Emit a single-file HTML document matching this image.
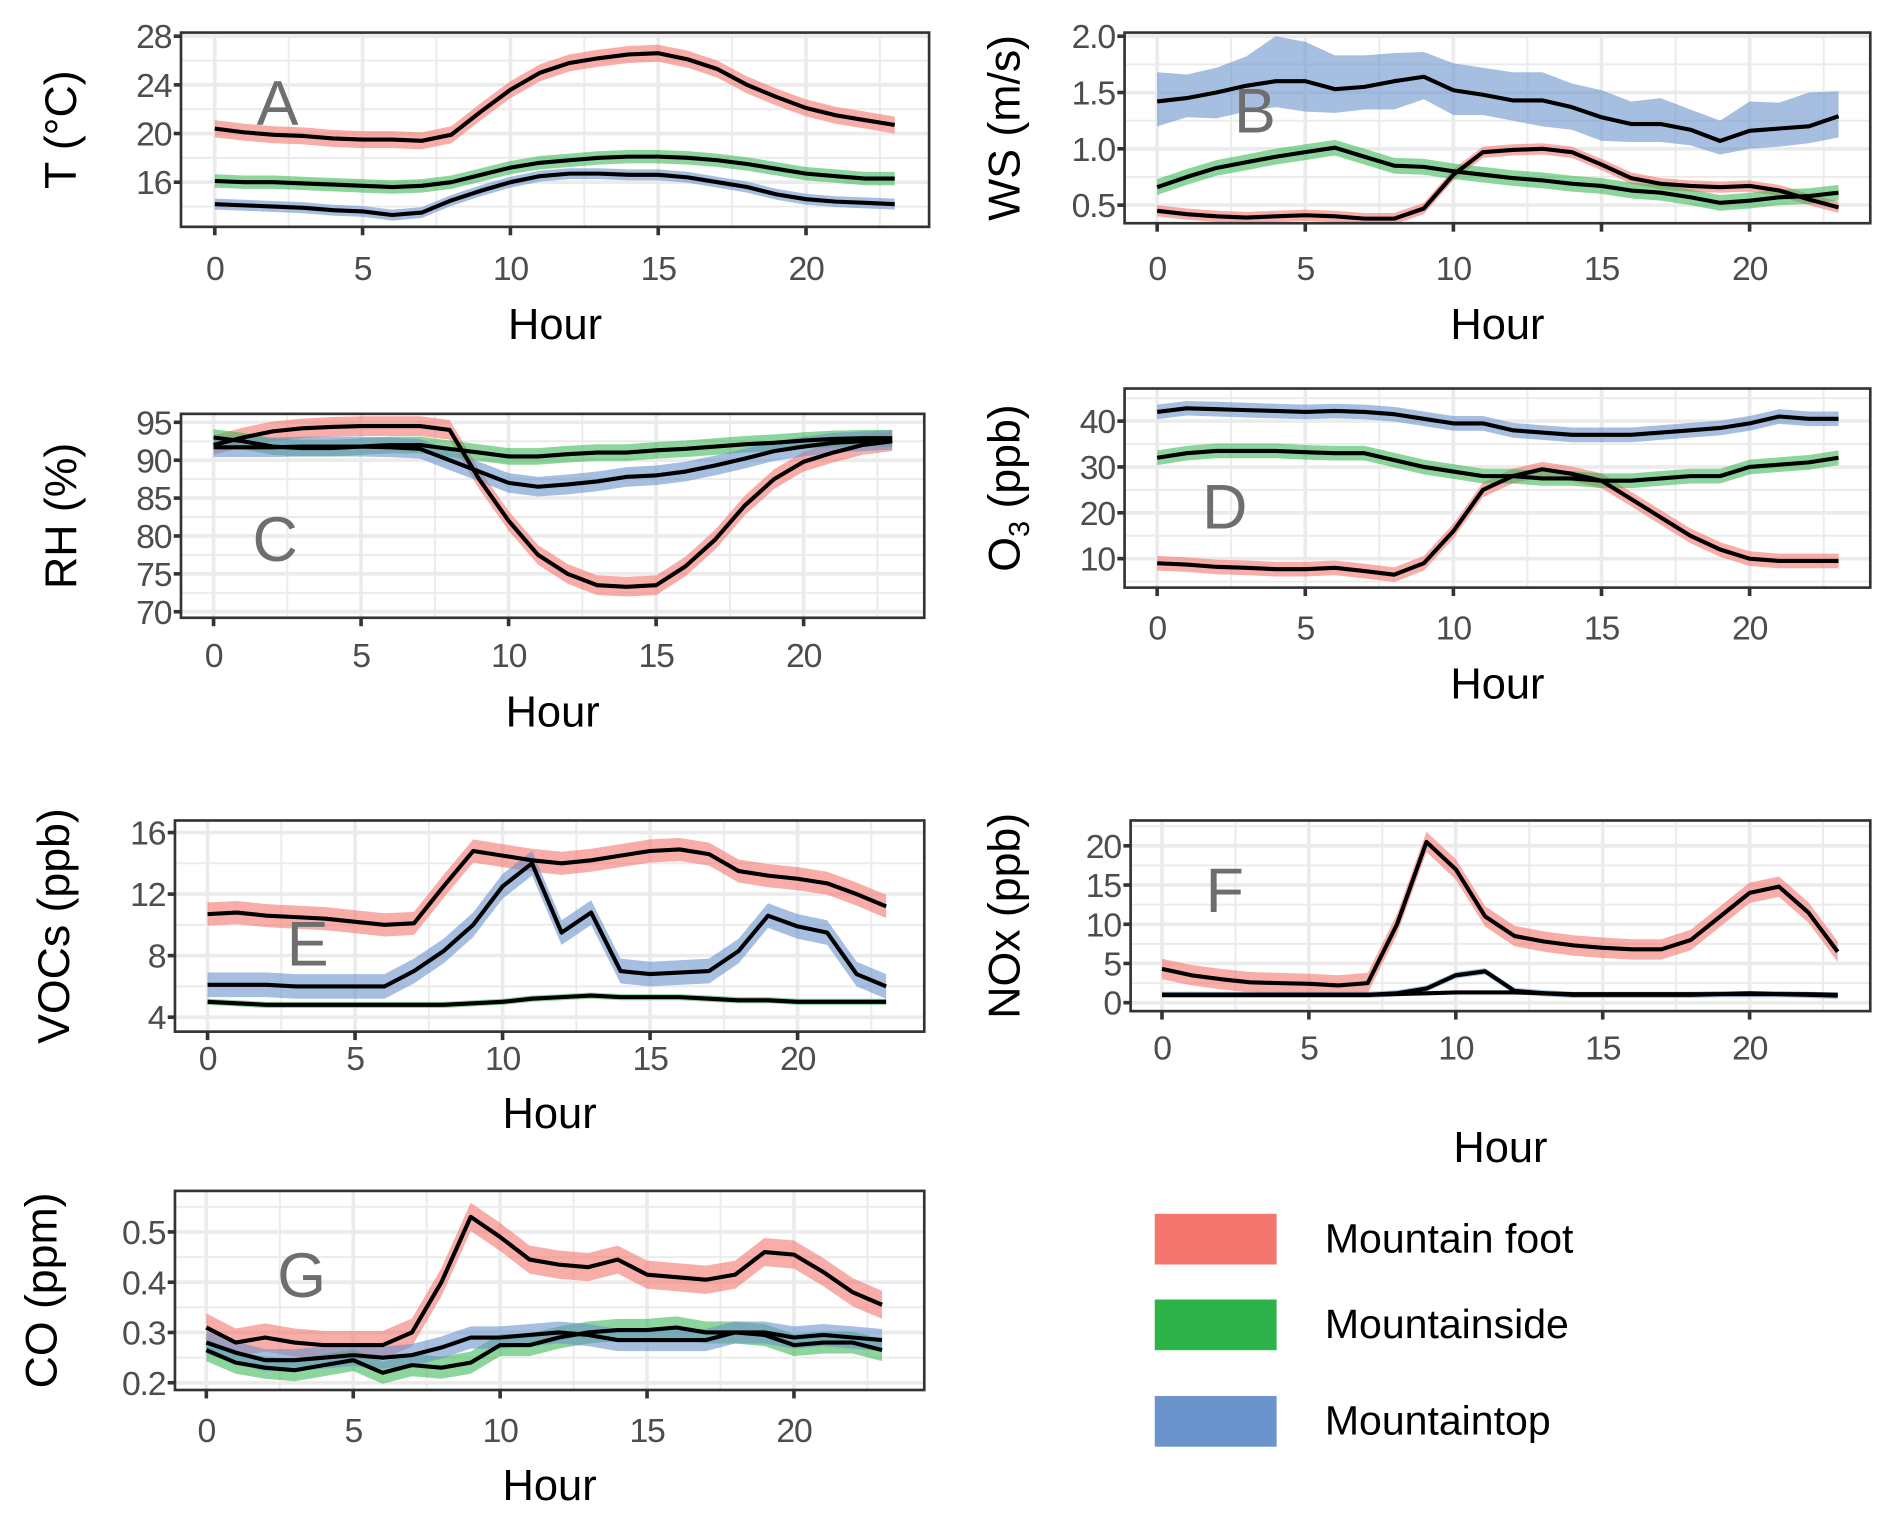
<!DOCTYPE html>
<html><head><meta charset="utf-8"><title>Diurnal profiles</title>
<style>
html,body{margin:0;padding:0;background:#fff;}
svg{display:block;font-family:"Liberation Sans",sans-serif;}
</style></head>
<body>
<svg id="chart" width="1892" height="1522" viewBox="0 0 1568 1261.4" preserveAspectRatio="none" xmlns="http://www.w3.org/2000/svg"></svg>
<script>
const hours = [0,1,2,3,4,5,6,7,8,9,10,11,12,13,14,15,16,17,18,19,20,21,22,23];
const xTicks = [0,5,10,15,20];
const seriesNames = ["Mountain foot","Mountainside","Mountaintop"];

// A: Temperature
const aFoot = [20.4,20.1,19.9,19.8,19.6,19.5,19.5,19.4,19.9,21.8,23.6,25.0,25.8,26.2,26.5,26.6,26.1,25.3,24.0,23.0,22.1,21.5,21.1,20.7];
const aSide = [16.1,16.0,16.0,15.9,15.8,15.7,15.6,15.7,16.0,16.6,17.2,17.6,17.8,18.0,18.1,18.1,18.0,17.8,17.5,17.1,16.7,16.5,16.3,16.3];
const aTop  = [14.2,14.1,14.0,13.9,13.7,13.6,13.3,13.5,14.5,15.3,16.0,16.5,16.7,16.7,16.6,16.6,16.4,16.0,15.6,15.0,14.6,14.4,14.3,14.2];
const aBand = [0.7,0.55,0.45];
const aTicks = [16,20,24,28];

// B: Wind speed
const bFoot = [0.45,0.42,0.40,0.39,0.40,0.41,0.40,0.38,0.38,0.47,0.77,0.97,0.99,1.00,0.97,0.86,0.74,0.69,0.67,0.66,0.67,0.63,0.55,0.48];
const bSide = [0.66,0.75,0.83,0.88,0.93,0.97,1.01,0.93,0.85,0.84,0.80,0.77,0.74,0.72,0.69,0.67,0.63,0.61,0.57,0.52,0.54,0.57,0.58,0.61];
const bTop  = [1.42,1.45,1.50,1.56,1.60,1.60,1.53,1.55,1.60,1.64,1.52,1.48,1.43,1.43,1.37,1.28,1.22,1.22,1.17,1.07,1.16,1.18,1.20,1.29];
const bTopHi = [1.68,1.66,1.72,1.82,2.00,1.95,1.83,1.83,1.85,1.86,1.76,1.72,1.68,1.68,1.58,1.52,1.42,1.45,1.35,1.25,1.42,1.41,1.50,1.51];
const bTopLo = [1.20,1.28,1.27,1.33,1.37,1.33,1.32,1.35,1.35,1.44,1.30,1.30,1.25,1.20,1.17,1.07,1.06,1.06,1.03,0.95,1.00,1.02,1.05,1.10];
const bBand = [0.05,0.07,0];
const bTicks = [0.5,1.0,1.5,2.0];

// C: Relative humidity
const cFoot = [92.0,93.0,93.8,94.2,94.4,94.5,94.5,94.5,94.0,87.5,82.0,77.5,75.0,73.5,73.3,73.5,76.0,79.5,84.0,87.5,89.8,91.0,92.0,92.5];
const cSide = [93.0,92.5,91.8,91.6,91.6,91.8,92.0,92.0,91.5,91.0,90.5,90.5,90.8,91.0,91.0,91.3,91.5,91.8,92.1,92.3,92.6,92.8,92.9,92.9];
const cTop  = [91.7,91.7,91.7,91.8,91.8,91.8,91.7,91.5,90.0,88.5,87.0,86.5,86.8,87.2,87.8,88.0,88.5,89.3,90.2,91.2,91.8,92.3,92.5,92.7];
const cBand = [1.3,1.1,1.3];
const cTicks = [70,75,80,85,90,95];

// D: O3
const dFoot = [9.0,8.7,8.2,8.0,7.7,7.7,8.0,7.3,6.5,9.0,16.0,25.0,28.0,29.5,28.5,27.0,23.0,19.0,15.0,12.0,10.0,9.5,9.5,9.5];
const dSide = [32.0,33.0,33.5,33.5,33.5,33.2,33.0,33.0,31.5,30.0,29.0,28.0,28.0,27.5,27.5,27.0,27.0,27.5,28.0,28.0,30.0,30.5,31.0,32.0];
const dTop  = [42.0,42.8,42.6,42.4,42.2,42.0,42.2,42.0,41.5,40.5,39.5,39.5,38.0,37.5,37.0,37.0,37.0,37.5,38.0,38.5,39.5,41.0,40.5,40.5];
const dBand = [1.6,1.6,1.6];
const dTicks = [10,20,30,40];

// E: VOCs
const eFoot = [10.7,10.8,10.6,10.5,10.4,10.2,10.0,10.1,12.5,14.8,14.5,14.2,14.0,14.2,14.5,14.8,14.9,14.6,13.5,13.2,13.0,12.7,12.0,11.2];
const eSide = [5.0,4.9,4.8,4.8,4.8,4.8,4.8,4.8,4.8,4.9,5.0,5.2,5.3,5.4,5.3,5.3,5.3,5.2,5.1,5.1,5.0,5.0,5.0,5.0];
const eTop  = [6.1,6.1,6.1,6.0,6.0,6.0,6.0,7.0,8.3,10.0,12.5,14.0,9.5,10.8,7.0,6.8,6.9,7.0,8.3,10.6,9.9,9.5,6.8,6.0];
const eBand = [0.75,0.2,0.8];
const eTicks = [4,8,12,16];

// F: NOx
const fFoot = [4.3,3.5,3.0,2.6,2.5,2.4,2.2,2.5,10.0,20.5,17.0,11.0,8.5,7.8,7.3,7.0,6.8,6.8,8.0,11.0,14.0,14.8,11.5,6.5];
const fSide = [1.0,1.0,1.0,1.0,1.0,1.0,1.0,1.0,1.1,1.2,1.3,1.3,1.3,1.2,1.1,1.1,1.1,1.1,1.1,1.1,1.2,1.1,1.1,1.0];
const fTop  = [1.0,1.0,1.0,1.0,1.0,1.0,1.0,1.0,1.2,1.8,3.5,4.0,1.5,1.2,1.0,1.0,1.0,1.0,1.0,1.1,1.1,1.1,1.0,0.9];
const fBand = [1.3,0.2,0.4];
const fTicks = [0,5,10,15,20];

// G: CO
const gFoot = [0.31,0.28,0.29,0.28,0.275,0.275,0.275,0.30,0.40,0.53,0.49,0.445,0.435,0.43,0.445,0.415,0.41,0.405,0.415,0.46,0.455,0.42,0.38,0.355];
const gSide = [0.265,0.24,0.23,0.225,0.235,0.245,0.22,0.235,0.23,0.24,0.275,0.275,0.29,0.30,0.305,0.305,0.31,0.30,0.30,0.295,0.275,0.28,0.28,0.265];
const gTop  = [0.28,0.26,0.245,0.245,0.25,0.255,0.25,0.255,0.27,0.29,0.29,0.295,0.30,0.295,0.285,0.285,0.285,0.285,0.30,0.30,0.29,0.295,0.29,0.285];
const gBand = [0.028,0.022,0.022];
const gTicks = [0.2,0.3,0.4,0.5];

const NS = "http://www.w3.org/2000/svg";
const svg = document.getElementById("chart");
const FILL = ["#f4766e","#2db34a","#6b93cc"];
const FILLOP = [0.6,0.55,0.6];

function mk(tag, attrs, parent){
  const e = document.createElementNS(NS, tag);
  for (const k in attrs) e.setAttribute(k, attrs[k]);
  (parent||svg).appendChild(e);
  return e;
}

const panels = [
  {id:"a", letter:"A", title:"T (°C)", series:[aFoot,aSide,aTop], band:aBand, ticks:aTicks, dec:0,
   box:[150,770,27,188], x0:178, x20:668, yv:[16,28], yp:[151,30], tickY:222, hourY:268, titleX:50, lx:230, ly:85},
  {id:"b", letter:"B", title:"WS (m/s)", series:[bFoot,bSide,bTop], band:bBand, hi:[null,null,bTopHi], lo:[null,null,bTopLo], ticks:bTicks, dec:1,
   box:[932,1550,27,185], x0:959, x20:1450, yv:[0.5,2.0], yp:[170,30], tickY:222, hourY:268, titleX:832, lx:1040, ly:92},
  {id:"c", letter:"C", title:"RH (%)", series:[cFoot,cSide,cTop], band:cBand, ticks:cTicks, dec:0,
   box:[150,766,343,512], x0:177, x20:666, yv:[70,95], yp:[507,350], tickY:543, hourY:589, titleX:50, lx:228, ly:447},
  {id:"d", letter:"D", title:"O3", series:[dFoot,dSide,dTop], band:dBand, ticks:dTicks, dec:0,
   box:[932,1550,322,487], x0:959, x20:1450, yv:[10,40], yp:[463,349], tickY:520, hourY:566, titleX:832, lx:1015, ly:420},
  {id:"e", letter:"E", title:"VOCs (ppb)", series:[eFoot,eSide,eTop], band:eBand, ticks:eTicks, dec:0,
   box:[145,766,680,855], x0:172, x20:661, yv:[4,16], yp:[843,690], tickY:877, hourY:922, titleX:44, lx:255, ly:782},
  {id:"f", letter:"F", title:"NOx (ppb)", series:[fFoot,fSide,fTop], band:fBand, ticks:fTicks, dec:0,
   box:[937,1550,680,838], x0:963, x20:1450, yv:[0,20], yp:[831,701], tickY:868, hourY:950, titleX:832, lx:1015, ly:738},
  {id:"g", letter:"G", title:"CO (ppm)", series:[gFoot,gSide,gTop], band:gBand, ticks:gTicks, dec:1,
   box:[145,766,987,1152], x0:171, x20:658, yv:[0.2,0.5], yp:[1146,1021], tickY:1185, hourY:1230, titleX:34, lx:250, ly:1057}
];

const seriesKeys = ["foot","side","top"];

panels.forEach(p => {
  const g = mk("g", {});
  
  
  const [L,R,T,B] = p.box;
  const xs = h => p.x0 + (p.x20 - p.x0) * h / 20;
  const ys = v => p.yp[0] + (p.yp[1] - p.yp[0]) * (v - p.yv[0]) / (p.yv[1] - p.yv[0]);
  const bg = mk("rect", {x:L, y:T, width:R-L, height:B-T, fill:"#fff"}, g);
  
  
  const step = p.ticks[1] - p.ticks[0];
  for (let v = p.ticks[0] - step*1.5; v <= p.ticks[p.ticks.length-1] + step*1.5 + 1e-9; v += step/2) {
    const y = ys(v);
    if (y < T+1 || y > B-1) continue;
    const major = p.ticks.some(t => Math.abs(t - v) < step*0.01);
    const ln = mk("line", {x1:L, x2:R, y1:y, y2:y, stroke:"#ebebeb", "stroke-width": major?3:1.6}, g);
    
    
  }
  for (let h = -2.5; h <= 25; h += 2.5) {
    const x = xs(h);
    if (x < L+1 || x > R-1) continue;
    const major = h % 5 === 0;
    const ln = mk("line", {x1:x, x2:x, y1:T, y2:B, stroke:"#ebebeb", "stroke-width": major?3:1.6}, g);
    
    
  }
  p.series.forEach((s, i) => {
    let up, dn;
    if (p.hi && p.hi[i]) { up = p.hi[i]; dn = p.lo[i]; }
    else { up = s.map(v => v + p.band[i]); dn = s.map(v => v - p.band[i]); }
    let d = "";
    hours.forEach((h, k) => { d += (k ? "L" : "M") + xs(h).toFixed(1) + "," + ys(up[k]).toFixed(1); });
    for (let k = hours.length - 1; k >= 0; k--) d += "L" + xs(hours[k]).toFixed(1) + "," + ys(dn[k]).toFixed(1);
    d += "Z";
    const pa = mk("path", {d:d, fill:FILL[i], "fill-opacity":FILLOP[i], stroke:"none"}, g);
    
    
  });
  p.series.forEach((s, i) => {
    const pts = hours.map((h, k) => xs(h).toFixed(1) + "," + ys(s[k]).toFixed(1)).join(" ");
    const pl = mk("polyline", {points:pts, fill:"none", stroke:"#000", "stroke-width":3.4, "stroke-linejoin":"round"}, g);
    
    
  });
  const bd = mk("rect", {x:L, y:T, width:R-L, height:B-T, fill:"none", stroke:"#333", "stroke-width":2.2}, g);
  
  
  p.ticks.forEach(v => {
    const y = ys(v);
    const tk = mk("line", {x1:L-6, x2:L, y1:y, y2:y, stroke:"#333", "stroke-width":3}, g);
    
    
    const tx = mk("text", {x:L-8, y:y+10, "text-anchor":"end", "font-size":28, fill:"#4d4d4d", "letter-spacing":"-1"}, g);
    tx.textContent = p.dec ? v.toFixed(1) : String(v);
    
    
  });
  xTicks.forEach(h => {
    const x = xs(h);
    const tk = mk("line", {x1:x, x2:x, y1:B, y2:B+7, stroke:"#333", "stroke-width":3}, g);
    
    
    const tx = mk("text", {x:x, y:p.tickY+10, "text-anchor":"middle", "font-size":28, fill:"#4d4d4d", "letter-spacing":"-1"}, g);
    tx.textContent = String(h);
    
    
  });
  const xt = mk("text", {x:(L+R)/2, y:p.hourY+13, "text-anchor":"middle", "font-size":36, fill:"#000"}, g);
  xt.textContent = "Hour";
  
  
  const cy = (T+B)/2;
  const yt = mk("text", {x:p.titleX+13, y:cy, "text-anchor":"middle", "font-size":37, fill:"#000", transform:"rotate(-90 " + (p.titleX+13) + " " + cy + ")"}, g);
  if (p.title === "O3") {
    yt.textContent = "O";
    const sub = mk("tspan", {"font-size":24, dy:8}, yt); sub.textContent = "3";
    const rest = mk("tspan", {dy:-8}, yt); rest.textContent = " (ppb)";
  } else yt.textContent = p.title;
  
  
  const lt = mk("text", {x:p.lx, y:p.ly+18, "text-anchor":"middle", "font-size":52, fill:"#6e6e6e"}, g);
  lt.textContent = p.letter;
  
  
});

const lg = mk("g", {});


const legY = [1027,1098,1178];
seriesNames.forEach((n, i) => {
  const r = mk("rect", {x:957, y:legY[i]-21, width:101, height:42, fill:FILL[i]}, lg);
  
  
  const t = mk("text", {x:1098, y:legY[i]+11, "font-size":34, fill:"#000"}, lg);
  t.textContent = n;
  
  
});
</script>
</body></html>
